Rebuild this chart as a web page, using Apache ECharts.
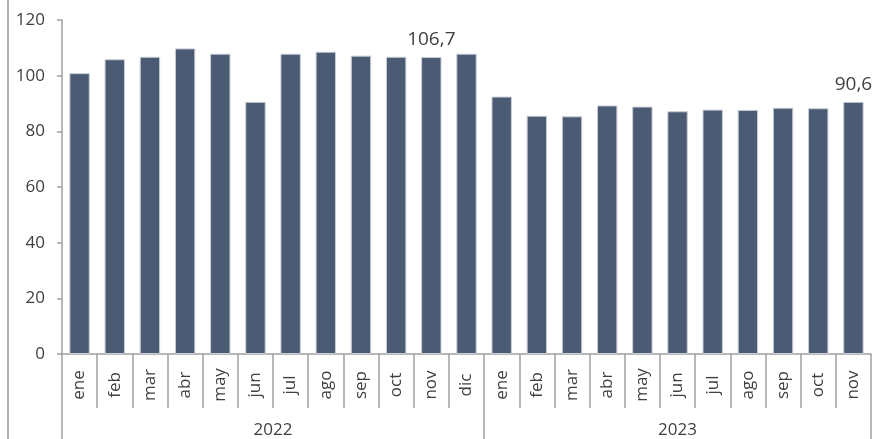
<!DOCTYPE html>
<html>
<head>
<meta charset="utf-8">
<script src="https://cdn.jsdelivr.net/npm/echarts@6/dist/echarts.min.js"></script>
<style>
  html, body { margin: 0; padding: 0; background: #fff; }
  #chart { width: 876px; height: 439px; }
</style>
</head>
<body>
<div id="chart"></div>
<script>
// meses (2022: ene-dic, 2023: ene-nov)
const months = ['ene', 'feb', 'mar', 'abr', 'may', 'jun', 'jul', 'ago', 'sep', 'oct', 'nov', 'dic',
                'ene', 'feb', 'mar', 'abr', 'may', 'jun', 'jul', 'ago', 'sep', 'oct', 'nov']
const values = [100.9, 105.9, 106.8, 109.8, 107.9, 90.6, 107.9, 108.6, 107.2, 106.8, 106.7, 107.9,
                92.5, 85.6, 85.4, 89.3, 88.9, 87.2, 87.8, 87.7, 88.5, 88.3, 90.6]
const years = ['2022', '2023']
const yearBreaks = [0, 12, 23]        // límites de cada año en el eje
const yearCenters = [6, 17.5]
const labeled = [10, 22]              // barras con etiqueta
const yTicks = [0, 20, 40, 60, 80, 100, 120]

const textColor = '#404040'
const axisColor = '#a0a0a0'
const font = '"Open Sans", Lato, sans-serif'

const chart = echarts.init(document.getElementById('chart'))

const seriesData = values.map((v, i) => {
    if (labeled.includes(i)) {
        return {
            value: v,
            label: {
                show: true,
                position: 'top',
                distance: 8,
                fontSize: 19,
                color: textColor,
                fontFamily: font,
                formatter: p => String(p.value).replace('.', ',')
            }
        }
    }
    return v
})

const option = {
    animation: false,
    grid: { left: 62, right: 5, top: 20, bottom: 85 },
    xAxis: [{
        type: 'category',
        data: months,
        axisLine: { lineStyle: { color: axisColor, width: 1.5 } },
        axisTick: { show: true, length: 54, lineStyle: { color: axisColor, width: 1.5 } },
        axisLabel: {
            rotate: 90,
            align: 'center',
            verticalAlign: 'middle',
            margin: 31,
            fontSize: 17,
            color: textColor,
            fontFamily: font,
            interval: 0
        }
    }, {
        type: 'value',
        position: 'bottom',
        min: 0,
        max: 23,
        axisLine: { show: false },
        splitLine: { show: false },
        axisTick: {
            show: true,
            length: 85,
            customValues: yearBreaks,
            lineStyle: { color: axisColor, width: 1.5 }
        },
        axisLabel: {
            customValues: yearCenters,
            formatter: v => (v < 12 ? years[0] : years[1]),
            margin: 68,
            fontSize: 17,
            color: textColor,
            fontFamily: font
        }
    }],
    yAxis: {
        type: 'value',
        min: yTicks[0],
        max: yTicks[yTicks.length - 1],
        interval: 20,
        axisLine: { show: true, lineStyle: { color: axisColor, width: 1.5 } },
        axisTick: { show: true, length: 5, lineStyle: { color: axisColor, width: 1.5 } },
        splitLine: { show: false },
        axisLabel: { fontSize: 17, color: textColor, fontFamily: font, margin: 17 }
    },
    series: [{
        type: 'bar',
        data: seriesData,
        barCategoryGap: '42%',
        itemStyle: {
            color: '#4b5b73',
            borderColor: '#c9ced6',
            borderWidth: 1
        }
    }],
    graphic: [{
        type: 'line',
        shape: { x1: 8, y1: 0, x2: 8, y2: 439 },
        style: { stroke: '#b0b0b0', lineWidth: 2 }
    }]
}

chart.setOption(option)
</script>
</body>
</html>
